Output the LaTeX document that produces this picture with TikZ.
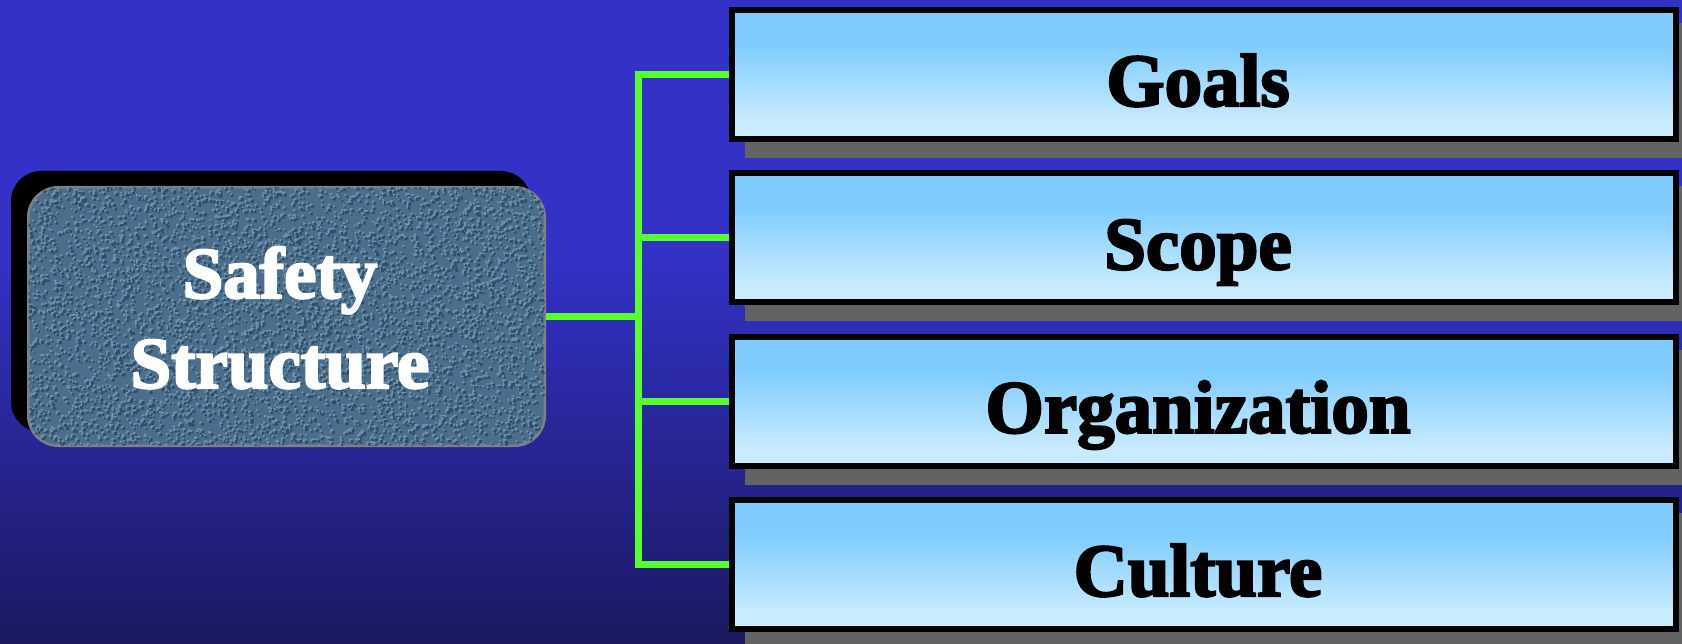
\documentclass[tikz,border=0pt]{standalone}
\usepackage{fontspec}
\newfontfamily\heavyserif{Liberation Serif Bold}[FakeBold=3]
\definecolor{bgtop}{RGB}{51,49,198}
\definecolor{bgbot}{RGB}{26,25,96}
\definecolor{boxtop}{RGB}{126,204,255}
\definecolor{boxbot}{RGB}{200,235,255}
\definecolor{linkgreen}{RGB}{88,255,48}
\definecolor{shadowgrey}{RGB}{99,99,99}
\definecolor{slate}{RGB}{74,110,140}
\definecolor{slatehi}{RGB}{112,147,173}
\definecolor{slatelo}{RGB}{48,78,104}
\definecolor{rimgrey}{RGB}{128,128,128}
% backdrop: flat blue in the upper half, darkening towards the bottom
\pgfdeclareverticalshading{backdrop}{100bp}{color(0bp)=(bgbot); color(25bp)=(bgbot); color(55bp)=(bgtop); color(100bp)=(bgtop)}
% topic boxes: sky blue at the top, pale at the bottom
\pgfdeclareverticalshading{skyfill}{100bp}{color(0bp)=(boxbot); color(32bp)=(boxbot); color(62bp)=(boxtop); color(100bp)=(boxtop)}
\begin{document}
\begin{tikzpicture}[x=1pt,y=-1pt,
  link/.style={draw=linkgreen, line width=7pt, line join=miter},
  topic/.style={rectangle, draw=black, line width=6pt, shading=skyfill,
    minimum width=944pt, minimum height=129pt, inner sep=0pt},
  topiclabel/.style={anchor=base, inner sep=0pt, text=black,
    font=\heavyserif\fontsize{75}{90}\selectfont},
  hublabel/.style={anchor=base, inner sep=0pt, text=white,
    font=\heavyserif\fontsize{73}{90}\selectfont},
  hub/.style={rectangle, rounded corners=30pt, fill=slate, draw=rimgrey,
    line width=2.5pt, minimum width=516.5pt, minimum height=258.5pt, inner sep=0pt},
]
\useasboundingbox (0,0) rectangle (1682,644);
\shade[shading=backdrop] (0,0) rectangle (1682,644);

% drop shadows of the topic boxes
\begin{scope}
  \clip (0,0) rectangle (1682,644);
  \foreach \t in {7,170.3,333.7,497}
    \fill[shadowgrey] (745,\t+16) rectangle (1695,\t+151);
\end{scope}

% drop shadow and body of the central box
\fill[black, rounded corners=30pt] (11,171) rectangle (531,432);
\node[hub] (ss) at (286.5,316.5) {};
% embossed grain: batches of light specks, each with a dark partner below right
\begin{scope}
  \clip[rounded corners=28.5pt] (28.5,187.5) rectangle (544.5,445.5);
  \foreach \k in {1,...,36}{
    \pgfmathsetseed{\k*131}
    \fill[slatehi] \foreach \i [evaluate=\i as \px using 25+523*rnd,
        evaluate=\i as \py using 184+265*rnd,
        evaluate=\i as \ps using 1.4+1.8*rnd] in {1,...,180}
      { (\px,\py) rectangle ++(\ps,\ps) };
    \pgfmathsetseed{\k*131}
    \fill[slatelo] \foreach \i [evaluate=\i as \px using 26.6+523*rnd,
        evaluate=\i as \py using 185.6+265*rnd,
        evaluate=\i as \ps using 1.4+1.8*rnd] in {1,...,180}
      { (\px,\py) rectangle ++(\ps,\ps) };
  }
\end{scope}
\node[hublabel] (ssA) at (280,298) {Safety};
\node[hublabel] (ssB) at (280,388) {Structure};

% connectors
\coordinate (trunk) at (638.5,316.5);

% topic boxes
\node[topic] (goals) at (1204,74.5) {};
\node[topic] (scope) at (1204,237.8) {};
\node[topic] (organization) at (1204,401.2) {};
\node[topic] (culture) at (1204,564.5) {};

\draw[link] (ss.east) -- (trunk);
\draw[link] (trunk) |- (goals.west);
\draw[link] (trunk) |- (scope.west);
\draw[link] (trunk) |- (organization.west);
\draw[link] (trunk) |- (culture.west);

\node[topiclabel] (goalsT) at (1198,106) {Goals};
\node[topiclabel] (scopeT) at (1198,269.3) {Scope};
\node[topiclabel] (organizationT) at (1198,432.7) {Organization};
\node[topiclabel] (cultureT) at (1198,596) {Culture};
\end{tikzpicture}
\end{document}
